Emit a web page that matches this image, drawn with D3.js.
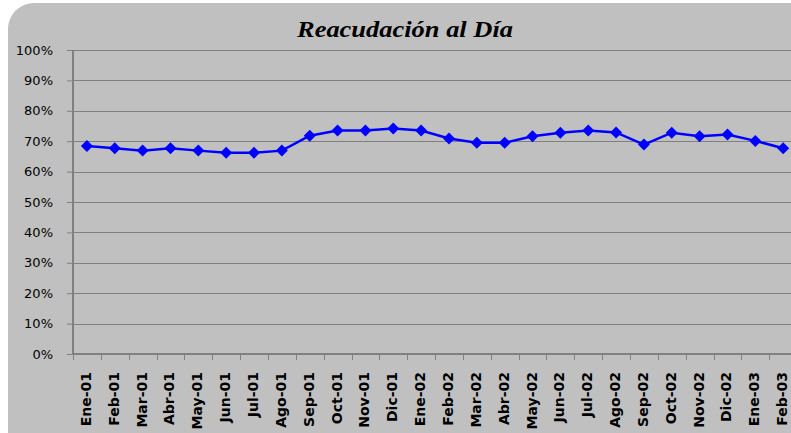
<!DOCTYPE html>
<html>
<head>
<meta charset="utf-8">
<script src="https://cdn.jsdelivr.net/npm/d3@7"></script>
<style>
  html, body { margin: 0; padding: 0; background: #ffffff; overflow: hidden; }
  svg { display: block; }
</style>
</head>
<body>
<svg id="chart" width="791" height="433"></svg>
<script>
const title = "Reacudación al Día";
const categories = ["Ene-01","Feb-01","Mar-01","Abr-01","May-01","Jun-01","Jul-01","Ago-01","Sep-01","Oct-01","Nov-01","Dic-01",
  "Ene-02","Feb-02","Mar-02","Abr-02","May-02","Jun-02","Jul-02","Ago-02","Sep-02","Oct-02","Nov-02","Dic-02","Ene-03","Feb-03"];
const values = [0.684,0.677,0.669,0.677,0.669,0.662,0.662,0.669,0.718,0.735,0.735,0.742,
  0.735,0.709,0.695,0.695,0.716,0.728,0.735,0.729,0.689,0.728,0.716,0.722,0.701,0.677];
const yTicks = [0,0.1,0.2,0.3,0.4,0.5,0.6,0.7,0.8,0.9,1.0];

const svg = d3.select("#chart");
// outer rounded background (extends past the right/bottom edges)
svg.append("rect").attr("x", 8).attr("y", 3).attr("width", 830).attr("height", 480)
  .attr("rx", 26).attr("ry", 26).attr("fill", "#c0c0c0");

const plotLeft = 73, plotTop = 50, plotBottom = 354;
const band = 27.85;
const x = d3.scaleBand().domain(categories).range([plotLeft, plotLeft + band * categories.length]).paddingInner(0).paddingOuter(0);
const y = d3.scaleLinear().domain([0, 1]).range([plotBottom, plotTop]);

// gridlines
svg.append("g").selectAll("line").data(yTicks.filter(d => d > 0)).join("line")
  .attr("x1", plotLeft).attr("x2", 800)
  .attr("y1", d => Math.round(y(d)) + 0.5).attr("y2", d => Math.round(y(d)) + 0.5)
  .attr("stroke", "#808080").attr("stroke-width", 1.2);

// y axis
const yAxis = d3.axisLeft(y).tickValues(yTicks).tickFormat(d3.format(".0%")).tickSize(6).tickPadding(14);
const gy = svg.append("g").attr("transform", `translate(${plotLeft},0)`).call(yAxis);
gy.select(".domain").attr("stroke", "#808080").attr("stroke-width", 2).attr("d", `M0,${plotTop}V${plotBottom}`);
gy.selectAll(".tick line").attr("stroke", "#808080");
gy.selectAll(".tick text").attr("font-family", "DejaVu Sans, sans-serif").attr("font-size", 13).attr("fill", "#000");

// x axis
const tickPositions = d3.range(categories.length + 1).map(i => plotLeft + i * band);
const gx = svg.append("g").attr("transform", `translate(0,${plotBottom})`);
gx.append("line").attr("x1", plotLeft).attr("x2", 800).attr("y1", 0).attr("y2", 0)
  .attr("stroke", "#808080").attr("stroke-width", 2);
gx.selectAll("line.tk").data(tickPositions).join("line").attr("class", "tk")
  .attr("x1", d => Math.round(d) + 0.5).attr("x2", d => Math.round(d) + 0.5)
  .attr("y1", 0).attr("y2", 6).attr("stroke", "#808080");
gx.selectAll("text").data(categories).join("text")
  .attr("transform", d => `translate(${x(d) + x.bandwidth() / 2 + 4},${18}) rotate(-90)`)
  .attr("text-anchor", "end")
  .attr("font-family", "DejaVu Sans, sans-serif").attr("font-weight", "bold").attr("font-size", 14)
  .attr("fill", "#000").text(d => d);

// line
const line = d3.line().x((d, i) => x(categories[i]) + x.bandwidth() / 2).y(d => y(d));
svg.append("path").datum(values).attr("d", line).attr("fill", "none")
  .attr("stroke", "#0000ff").attr("stroke-width", 2.5);

// diamond markers
const sym = d3.symbol().type(d3.symbolSquare).size(72);
svg.append("g").selectAll("path").data(values).join("path")
  .attr("transform", (d, i) => `translate(${x(categories[i]) + x.bandwidth() / 2},${y(d)}) rotate(45)`)
  .attr("d", sym).attr("fill", "#0000ff");

// title
svg.append("text").attr("x", 297).attr("y", 37)
  .attr("textLength", 216).attr("lengthAdjust", "spacingAndGlyphs")
  .attr("font-family", "Liberation Serif, Times New Roman, serif").attr("font-style", "italic").attr("font-weight", "bold")
  .attr("font-size", 24).attr("fill", "#000").text(title);
</script>
</body>
</html>
